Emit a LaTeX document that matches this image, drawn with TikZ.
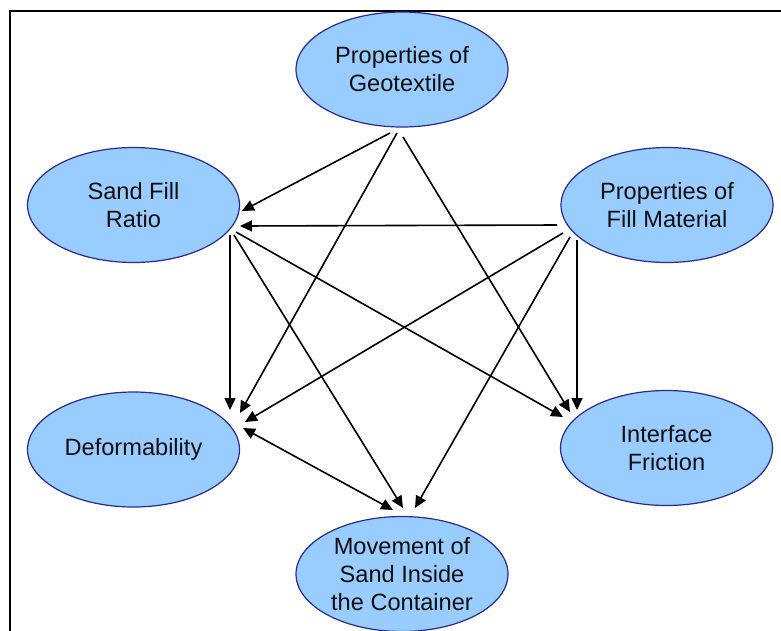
\documentclass[tikz,border=0pt]{standalone}
\usepackage{fontspec}
\setmainfont{Liberation Sans}
\usetikzlibrary{shapes.geometric,arrows.meta,calc}
\definecolor{bubblefill}{RGB}{153,204,255}
\definecolor{bubbleedge}{RGB}{40,40,150}
\definecolor{labeltext}{RGB}{15,15,15}
\tikzset{
  factor/.style={ellipse, draw=bubbleedge, fill=bubblefill, line width=1.2pt,
    inner sep=0pt, minimum width=212pt, minimum height=115pt,
    align=center, text=labeltext,
    font=\fontsize{23.6pt}{28pt}\selectfont},
  link/.style={draw=black, line width=1.6pt,
    -{Triangle[length=12pt,width=11pt]}},
  bilink/.style={draw=black, line width=1.6pt,
    {Triangle[length=12pt,width=11pt]}-{Triangle[length=12pt,width=11pt]}},
  frameline/.style={draw=black, line width=2pt}
}
\begin{document}
\begin{tikzpicture}[x=1pt,y=-1pt]
\useasboundingbox (0,0) rectangle (781,630);
% outer frame
\draw[frameline] (10,632) -- (10,11) -- (783,11);

% factors
\node[factor] (geo) at (402,69.5) {Properties of\\Geotextile};
\node[factor] (sfr) at (133.5,205) {Sand Fill\\Ratio};
\node[factor] (fm)  at (667,205) {Properties of\\Fill Material};
\node[factor] (def) at (133.5,449.5) {Deformability};
\node[factor] (ifr) at (666.5,448) {Interface\\Friction};
\node[factor] (mov) at (402,574) {Movement of\\Sand Inside\\the Container};

% influences from the geotextile
\draw[link] ($(geo)+(-12,63.5)$) -- ($(sfr)+(108.5,6)$);
\draw[link] ($(geo)+(-5,63.5)$)  -- ($(def)+(106.5,-36.5)$);
\draw[link] ($(geo)+(1,67.5)$)   -- ($(ifr)+(-96.5,-36)$);

% influences from the sand fill ratio
\draw[link] ($(sfr)+(96.5,30)$)  -- ($(def)+(96.5,-39.5)$);
\draw[link] ($(sfr)+(100.5,30)$) -- ($(mov)+(1,-66)$);
\draw[link] ($(sfr)+(102.5,27)$) -- ($(ifr)+(-103.5,-31)$);

% influences from the fill material
\draw[link] ($(fm)+(-110,20)$) -- ($(sfr)+(106.5,21)$);
\draw[link] ($(fm)+(-104,28)$) -- ($(def)+(111.5,-27.5)$);
\draw[link] ($(fm)+(-97,32)$)  -- ($(mov)+(13,-66)$);
\draw[link] ($(fm)+(-90,35)$)  -- ($(ifr)+(-89.5,-38)$);

% mutual influence
\draw[bilink] ($(def)+(109.5,-21.5)$) -- ($(mov)+(-9,-64)$);
\end{tikzpicture}
\end{document}
